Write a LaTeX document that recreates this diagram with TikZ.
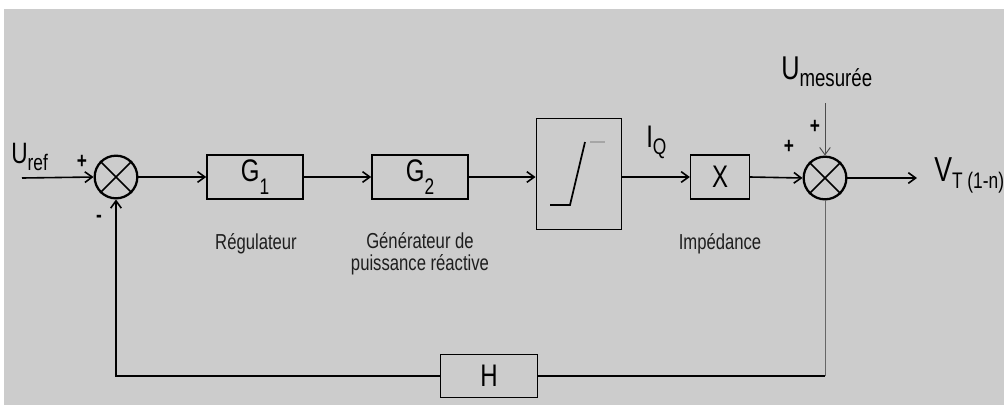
\documentclass[tikz,border=0pt]{standalone}
\usepackage{fontspec}
\usepackage{graphicx}
\setmainfont{Liberation Sans}
\usetikzlibrary{arrows.meta}
\definecolor{bggray}{RGB}{204,204,204}
\definecolor{txtgray}{RGB}{30,30,30}
\newcommand{\tall}[1]{\scalebox{1}[1.3]{#1}}
\newcommand{\bigsub}[4][13]{\tall{{\fontsize{#4}{#4}\selectfont #2}\raisebox{-0.4em}{\fontsize{#1}{#1}\selectfont #3}}}
\begin{document}
\begin{tikzpicture}[x=0.75pt,y=-0.75pt,>={Straight Barb[length=5.5pt,width=8pt]},
  blk/.style={draw,line width=1.2pt,minimum width=#1,minimum height=33pt,inner sep=0pt,font=\fontsize{18}{18}\selectfont},
  blk/.default=72pt,
  sumnode/.style={draw,circle,line width=1.7pt,minimum size=32pt,inner sep=0pt},
  blklabel/.style={font=\fontsize{12.5}{12.5}\selectfont,text=txtgray,inner sep=0pt},
  sgn/.style={font=\fontsize{13}{13}\selectfont\bfseries},
  wire/.style={line width=1.2pt}]
  \useasboundingbox (0,0) rectangle (1004,405);
  \fill[white] (0,0) rectangle (1004,405);
  \fill[bggray] (4,9) rectangle (1004,405);

  % blocks of the loop
  \node[sumnode] (sum1) at (116,177) {};
  \draw[line width=1.2pt] (sum1.north west) -- (sum1.south east) (sum1.north east) -- (sum1.south west);
  \node[blk] (g1) at (255,177) {\bigsub{G}{1}{18}};
  \node[blk] (g2) at (420,177) {\bigsub{G}{2}{18}};
  \node[blk,minimum height=83pt,minimum width=64pt] (sat) at (579,174) {};
  \draw[line width=1.3pt] (550,205) -- (570,205) -- (585,142);
  \draw[line width=1.3pt,gray!70] (590,142) -- (605,142);
  \node[blk=44pt] (imp) at (720,177) {\tall{X}};
  \node[sumnode] (sum2) at (825,178) {};
  \draw[line width=1.2pt] (sum2.north west) -- (sum2.south east) (sum2.north east) -- (sum2.south west);
  \node[blk=73pt,minimum height=32pt] (hb) at (489,376) {\tall{H}};

  % inputs and output
  \coordinate (uin) at (22,178);
  \coordinate (umes) at (825,103);
  \coordinate (vout) at (917,178);
  \node[anchor=west,inner sep=0pt] (uref) at (11,157) {\bigsub{U}{ref}{17}};
  \node[anchor=west,inner sep=0pt] (umeslbl) at (781,72) {\bigsub[14]{U}{mesurée}{19}};
  \node[anchor=west,inner sep=0pt] (vtlbl) at (934,175) {\bigsub[13]{V}{T (1-n)}{20}};
  \node[anchor=west,inner sep=0pt] (iq) at (646,142) {\bigsub{I}{Q}{18}};

  % connectors
  \draw[wire,->] (uin) -- (sum1.west);
  \draw[wire,->] (sum1.east) -- (g1.west);
  \draw[wire,->] (g1.east) -- (g2.west);
  \draw[wire,->] (g2.east) -- (sat.west |- g2.east);
  \draw[wire,->] (sat.east |- imp.west) -- (imp.west);
  \draw[wire,->] (imp.east) -- (sum2.west);
  \draw[->,black!70,line width=0.7pt] (umes) -- (sum2.north);
  \draw[wire,->] (sum2.east) -- (vout);
  \draw[black!60,line width=0.7pt] (sum2.south) -- (825,376);
  \draw[wire] (825,376) -- (hb.east);
  \draw[wire,->] (hb.west) -- (116,376) -- (sum1.south);

  % signs
  \node[sgn] (p1) at (82,162) {\tall{+}};
  \node[sgn] (m1) at (99,219) {\tall{-}};
  \node[sgn] (p2) at (789,147) {\tall{+}};
  \node[sgn] (p3) at (815,127) {\tall{+}};

  % captions
  \node[blklabel] (cg1) at (256,244) {\tall{Régulateur}};
  \node[blklabel] (cg2) at (420,255) {\tall{\begin{tabular}{@{}c@{}}Générateur de\\puissance réactive\end{tabular}}};
  \node[blklabel] (cx) at (720,244) {\tall{Impédance}};
\end{tikzpicture}
\end{document}
